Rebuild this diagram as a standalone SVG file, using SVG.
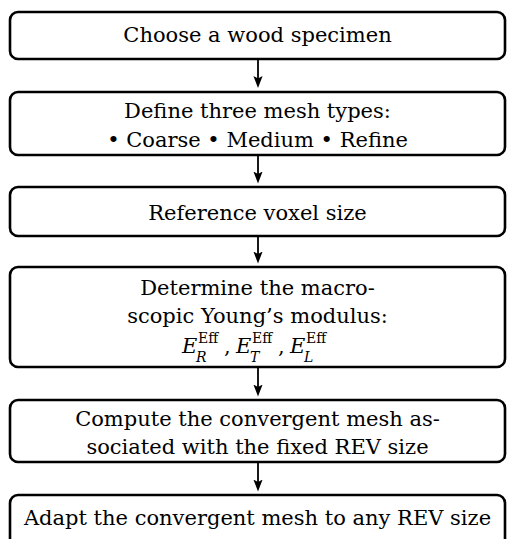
<svg xmlns="http://www.w3.org/2000/svg" width="507" height="539" viewBox="0 0 507 539">
<style>
.box{fill:#fff;stroke:#000;stroke-width:2.6}
.t{font-family:"DejaVu Serif","Liberation Serif",serif;font-size:21px;fill:#000;text-anchor:middle}
.m{font-family:"DejaVu Serif","Liberation Serif",serif;font-size:21px;fill:#000}
.mi{font-style:italic}
.sup{font-family:"DejaVu Serif","Liberation Serif",serif;font-size:14px;fill:#000}
.sub{font-family:"DejaVu Serif","Liberation Serif",serif;font-size:14px;font-style:italic;fill:#000}
.arr{stroke:#000;stroke-width:1.8;fill:none;marker-end:url(#ah)}
</style>
<defs>
<marker id="ah" markerUnits="userSpaceOnUse" markerWidth="14" markerHeight="12" viewBox="0 -6 14 12" refX="7" refY="0" orient="auto">
<path d="M0,-4.6 L12,0 L0,4.6 L2.5,0 Z" fill="#000"/>
</marker>
</defs>
<rect width="507" height="539" fill="#fff"/>
<g id="connectors">
<line class="arr" x1="258" y1="59" x2="258" y2="83"/>
<line class="arr" x1="258" y1="155" x2="258" y2="178.5"/>
<line class="arr" x1="258" y1="236" x2="258" y2="258.5"/>
<line class="arr" x1="258" y1="367" x2="258" y2="391.5"/>
<line class="arr" x1="258" y1="462" x2="258" y2="486.5"/>
</g>
<g id="n1">
<rect class="box" x="10" y="12" width="495" height="47" rx="8"/>
<text class="t" x="257.5" y="42">Choose a wood specimen</text>
</g>
<g id="n2">
<rect class="box" x="10" y="92" width="495" height="63" rx="8"/>
<text class="t" x="257.5" y="118">Define three mesh types:</text>
<text class="t" x="257.5" y="146.5">• Coarse • Medium • Refine</text>
</g>
<g id="n3">
<rect class="box" x="10" y="187" width="495" height="49" rx="8"/>
<text class="t" x="257.5" y="220">Reference voxel size</text>
</g>
<g id="n4">
<rect class="box" x="10" y="267" width="495" height="100" rx="8"/>
<text class="t" x="257.5" y="295">Determine the macro-</text>
<text class="t" x="257.5" y="323">scopic Young’s modulus:</text>
<text class="m"><tspan class="mi" x="182" y="353">E</tspan><tspan x="224" y="353">,</tspan><tspan class="mi" x="236" y="353">E</tspan><tspan x="278" y="353">,</tspan><tspan class="mi" x="290" y="353">E</tspan></text>
<text class="sup"><tspan x="198" y="343">Eff</tspan><tspan x="252" y="343">Eff</tspan><tspan x="306" y="343">Eff</tspan></text>
<text class="sub"><tspan x="196" y="362">R</tspan><tspan x="250" y="362">T</tspan><tspan x="304" y="362">L</tspan></text>
</g>
<g id="n5">
<rect class="box" x="10" y="400" width="495" height="62" rx="8"/>
<text class="t" x="257.5" y="425.5">Compute the convergent mesh as-</text>
<text class="t" x="257.5" y="453.5">sociated with the fixed REV size</text>
</g>
<g id="n6">
<rect class="box" x="10" y="495" width="495" height="52" rx="8"/>
<text class="t" x="257.5" y="525">Adapt the convergent mesh to any REV size</text>
</g>
</svg>
